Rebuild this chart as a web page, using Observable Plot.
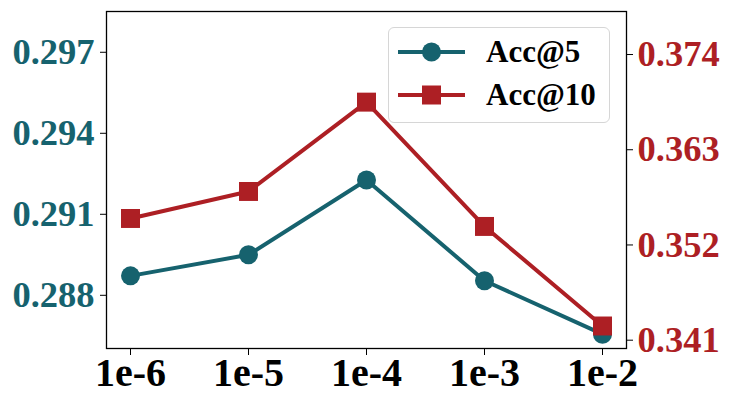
<!DOCTYPE html>
<html>
<head>
<meta charset="utf-8">
<script src="https://cdn.jsdelivr.net/npm/d3@7"></script>
<script src="https://cdn.jsdelivr.net/npm/@observablehq/plot@0.6"></script>
<style>
  html, body { margin: 0; padding: 0; background: #fff; }
  #wrap { position: relative; width: 731px; height: 406px; }
  #legend {
    position: absolute; left: 388px; top: 27px; width: 220px; height: 94px;
    border: 1.5px solid #d6d6d6; border-radius: 6px; background: rgba(255,255,255,0.85);
    font-family: "Liberation Serif", serif; font-weight: bold; font-size: 31px; color: #000;
  }
  .row { position: absolute; left: 0; height: 40px; display: flex; align-items: center; }
  .row svg { margin-left: 9px; }
  .row span { margin-left: 21px; }
</style>
</head>
<body>
<div id="wrap">
  <div id="chart"></div>
  <div id="legend"></div>
</div>
<script>
const xLabels = ["1e-6", "1e-5", "1e-4", "1e-3", "1e-2"];
const acc5 = [0.28872, 0.28950, 0.29227, 0.28854, 0.28656];
const acc10 = [0.35506, 0.35818, 0.36850, 0.35414, 0.34264];
const leftTicks = [0.288, 0.291, 0.294, 0.297];
const rightTicks = [0.341, 0.352, 0.363, 0.374];
const leftDomain = [0.28603, 0.29851];
const rightDomain = [0.34004, 0.37897];
const seriesNames = ["Acc@5", "Acc@10"];
const teal = "#16626e";
const red = "#ad1f24";

const toLeft = v => leftDomain[0] + (v - rightDomain[0]) * (leftDomain[1] - leftDomain[0]) / (rightDomain[1] - rightDomain[0]);
const toRight = v => rightDomain[0] + (v - leftDomain[0]) * (rightDomain[1] - rightDomain[0]) / (leftDomain[1] - leftDomain[0]);

const d5 = xLabels.map((x, i) => ({x, y: acc5[i]}));
const d10 = xLabels.map((x, i) => ({x, y: toLeft(acc10[i]), v: acc10[i]}));
const fmt = d3.format(".3f");
const font = "Liberation Serif";

const chart = Plot.plot({
  width: 731, height: 406,
  marginLeft: 106, marginRight: 105, marginTop: 11, marginBottom: 58,
  style: {fontFamily: font, fontWeight: "bold", background: "transparent"},
  x: {type: "point", domain: xLabels, padding: 0.194},
  y: {domain: leftDomain},
  marks: [
    Plot.axisX({tickSize: 7, tickPadding: 2, fontSize: 40, fontWeight: "bold", fontFamily: font, fill: "#000", stroke: "#000", label: null}),
    Plot.axisY({ticks: leftTicks, tickFormat: fmt, tickSize: 6, tickPadding: 6, fontSize: 36.5, fontWeight: "bold", fontFamily: font, fill: teal, stroke: "#000", label: null}),
    Plot.axisY({anchor: "right", ticks: rightTicks.map(toLeft), tickFormat: d => fmt(toRight(d)), tickSize: 6, tickPadding: 5, fontSize: 36.5, fontWeight: "bold", fontFamily: font, fill: red, stroke: "#000", label: null}),
    Plot.line(d5, {x: "x", y: "y", stroke: teal, strokeWidth: 4}),
    Plot.dot(d5, {x: "x", y: "y", r: 9.5, fill: teal, symbol: "circle"}),
    Plot.line(d10, {x: "x", y: "y", stroke: red, strokeWidth: 4}),
    Plot.dot(d10, {x: "x", y: "y", r: 10.7, fill: red, symbol: "square"}),
    Plot.frame({stroke: "#000", strokeWidth: 1.3})
  ]
});
document.getElementById("chart").appendChild(chart);

const legend = document.getElementById("legend");
const items = [
  {name: seriesNames[0], color: teal, shape: "circle", top: 4},
  {name: seriesNames[1], color: red, shape: "square", top: 47}
];
for (const it of items) {
  const row = document.createElement("div");
  row.className = "row";
  row.style.top = it.top + "px";
  const marker = it.shape === "circle"
    ? `<circle cx="33.5" cy="20" r="9.5" fill="${it.color}"/>`
    : `<rect x="24" y="10.5" width="19" height="19" fill="${it.color}"/>`;
  row.innerHTML = `<svg width="67" height="40"><line x1="0" y1="20" x2="67" y2="20" stroke="${it.color}" stroke-width="4"/>${marker}</svg><span>${it.name}</span>`;
  legend.appendChild(row);
}
</script>
</body>
</html>
